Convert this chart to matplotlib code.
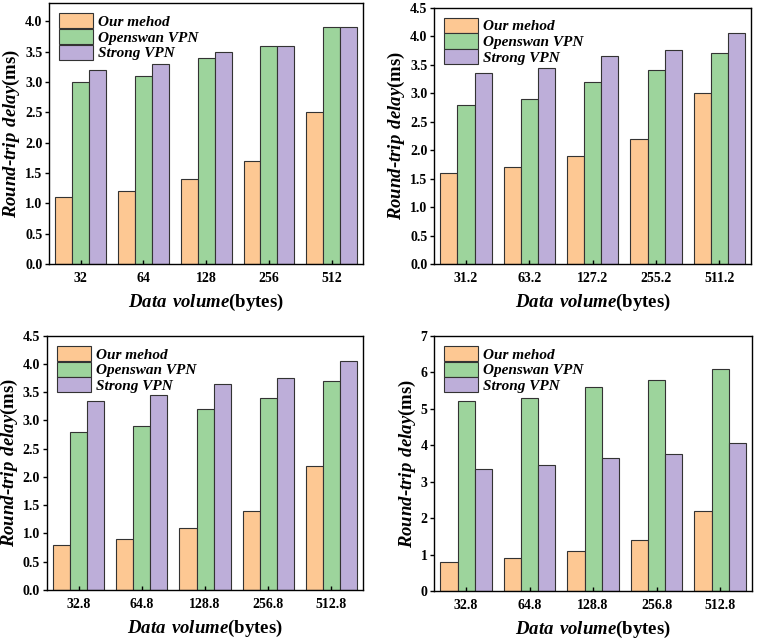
import numpy as np
import matplotlib.pyplot as plt

plt.rcParams['font.family'] = 'Liberation Serif'
plt.rcParams['font.weight'] = 'bold'
plt.rcParams['mathtext.fontset'] = 'custom'
plt.rcParams['mathtext.bfit'] = 'Liberation Serif:italic:bold'
plt.rcParams['mathtext.rm'] = 'Liberation Serif:bold'

series = ['Our mehod', 'Openswan VPN', 'Strong VPN']
colors = ['#FDC893', '#9DD49C', '#BDAED9']

# panel data
x1 = ['32', '64', '128', '256', '512']
ours1 = [1.1, 1.2, 1.4, 1.7, 2.5]
open1 = [3.0, 3.1, 3.4, 3.6, 3.9]
strong1 = [3.2, 3.3, 3.5, 3.6, 3.9]

x2 = ['31.2', '63.2', '127.2', '255.2', '511.2']
ours2 = [1.6, 1.7, 1.9, 2.2, 3.0]
open2 = [2.8, 2.9, 3.2, 3.4, 3.7]
strong2 = [3.35, 3.45, 3.65, 3.75, 4.05]

x3 = ['32.8', '64.8', '128.8', '256.8', '512.8']
ours3 = [0.8, 0.9, 1.1, 1.4, 2.2]
open3 = [2.8, 2.9, 3.2, 3.4, 3.7]
strong3 = [3.35, 3.45, 3.65, 3.75, 4.05]

x4 = ['32.8', '64.8', '128.8', '256.8', '512.8']
ours4 = [0.8, 0.9, 1.1, 1.4, 2.2]
open4 = [5.2, 5.3, 5.6, 5.8, 6.1]
strong4 = [3.35, 3.45, 3.65, 3.75, 4.05]

panels = [
    (x1, [ours1, open1, strong1], [0.065, 0.588, 0.414, 0.407], 4.3, np.arange(0, 4.01, 0.5), '{:.1f}'),
    (x2, [ours2, open2, strong2], [0.573, 0.588, 0.418, 0.400], 4.5, np.arange(0, 4.51, 0.5), '{:.1f}'),
    (x3, [ours3, open3, strong3], [0.062, 0.080, 0.417, 0.396], 4.5, np.arange(0, 4.51, 0.5), '{:.1f}'),
    (x4, [ours4, open4, strong4], [0.573, 0.078, 0.419, 0.398], 7, np.arange(0, 7.1, 1), '{:.0f}'),
]

fig = plt.figure(figsize=(7.58, 6.41), dpi=100)
w = 0.27
for labels, vals, pos, ymax, yt, fmt in panels:
    ax = fig.add_axes(pos)
    x = np.arange(len(labels))
    for i, (v, c, s) in enumerate(zip(vals, colors, series)):
        ax.bar(x + (i - 1) * w, v, w, color=c, edgecolor='#333333', linewidth=0.8, label=s)
    ax.set_xlim(-0.5, 4.5)
    ax.set_ylim(0, ymax)
    ax.set_xticks(x)
    ax.set_xticklabels(labels, fontsize=10, fontweight='bold')
    ax.set_yticks(yt)
    ax.set_yticklabels([fmt.format(t) for t in yt], fontsize=10, fontweight='bold')
    ax.tick_params(axis='x', direction='in', length=3, width=1, pad=6)
    ax.tick_params(axis='y', direction='out', length=3, width=1, pad=2)
    for sp in ax.spines.values():
        sp.set_linewidth(1.0)
    ax.set_xlabel(r'$\mathbfit{Data\ volume}$(bytes)', fontsize=13.5, fontweight='bold', labelpad=5)
    ax.set_ylabel(r'$\mathbfit{Round}$-$\mathbfit{trip\ delay}$(ms)', fontsize=13.5, fontweight='bold', labelpad=2)
    ax.legend(loc='upper left', frameon=False,
              prop={'style': 'italic', 'weight': 'bold', 'size': 11},
              handlelength=2.2, handleheight=1.15, handletextpad=0.35,
              labelspacing=0.0, borderaxespad=0.25)

fig.savefig('out.png', dpi=100)
